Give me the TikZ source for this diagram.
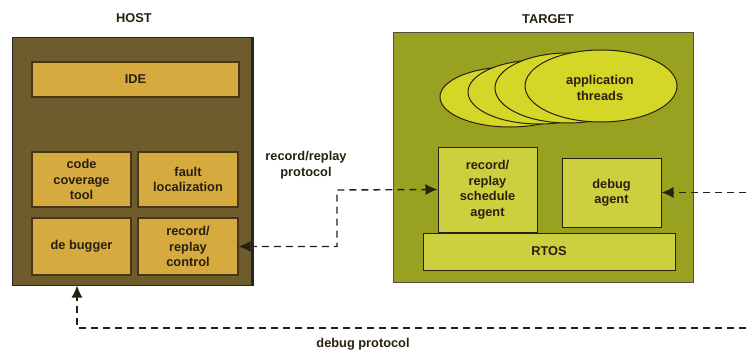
\documentclass[tikz,border=0pt]{standalone}
\usepackage{fontspec}
\setmainfont{Liberation Sans}
\usetikzlibrary{arrows.meta,shapes.geometric}

\definecolor{hostfill}{RGB}{110,92,44}
\definecolor{hostbox}{RGB}{214,170,62}
\definecolor{hostline}{RGB}{70,54,20}
\definecolor{targetfill}{RGB}{152,162,32}
\definecolor{targetbox}{RGB}{204,208,62}
\definecolor{threadfill}{RGB}{212,214,40}
\definecolor{inkdark}{RGB}{40,32,16}

\tikzset{
  lbl/.style={font=\bfseries\fontsize{12.8}{15.5}\selectfont, text=inkdark, align=center},
  frame/.style={rectangle, inner sep=0pt},
  hostpart/.style={frame, lbl, fill=hostbox, draw=hostline, line width=1.2pt},
  targetpart/.style={frame, lbl, fill=targetbox, draw=inkdark, line width=1pt},
  thread/.style={ellipse, inner sep=0pt, fill=threadfill, draw=inkdark, line width=1pt},
  proto/.style={draw=inkdark, line width=1.4pt, dash pattern=on 7pt off 5pt},
  headtip/.tip={Latex[length=12pt,width=11pt]}
}

\begin{document}
\begin{tikzpicture}[x=1pt,y=-1pt]
\useasboundingbox (0,0) rectangle (746,353);

% host side
\node[frame, fill=hostfill, draw=black!85, line width=1pt,
      minimum width=240pt, minimum height=247pt] (host) at (132,161.5) {};
\draw[black!85, line width=2.5pt] (host.north east) -- (host.south east);
\node[lbl] (hostlbl) at (134,18) {HOST};

\node[hostpart, minimum width=207pt, minimum height=35pt] (ide) at (135.5,79.5) {IDE};
\node[hostpart, minimum width=99pt, minimum height=55pt] (cct) at (81.5,179.5) {code\\coverage\\tool};
\node[hostpart, minimum width=100pt, minimum height=55pt] (fault) at (188,179.5) {fault\\localization};
\node[hostpart, minimum width=99pt, minimum height=57pt] (dbg) at (81.5,246.5) {de bugger};
\node[hostpart, minimum width=100pt, minimum height=57pt] (rrc) at (188,246.5) {record/\\replay\\control};

% target side
\node[frame, fill=targetfill, draw=inkdark!80, line width=0.8pt,
      minimum width=300pt, minimum height=250pt] (target) at (543,157) {};
\node[lbl] (targetlbl) at (548,19) {TARGET};

\node[thread, minimum width=140pt, minimum height=60pt] (th1) at (510,97) {};
\node[thread, minimum width=142pt, minimum height=64pt] (th2) at (539,92) {};
\node[thread, minimum width=146pt, minimum height=70pt] (th3) at (568,88) {};
\node[thread, minimum width=152pt, minimum height=72pt] (th4) at (601,86) {};
\node[lbl] (thlbl) at (600,88) {application\\threads};

\node[targetpart, minimum width=252pt, minimum height=37pt] (rtos) at (549,251.5) {RTOS};
\node[targetpart, minimum width=99pt, minimum height=85pt] (rrsa) at (487.5,189.5) {record/\\replay\\schedule\\agent};
\node[targetpart, minimum width=99pt, minimum height=69pt] (dagent) at (611.5,192.5) {debug\\agent};

% record/replay protocol
\coordinate (rpbend) at (337,190);
\draw[proto, headtip-headtip] (rrc.east) -| (rpbend) -- (rrsa.west);
\node[lbl] (rplbl) at (306,165) {record/replay\\protocol};

% debug protocol
\coordinate (dbgin) at (746,192.5);
\coordinate (dbgout) at (746,328);
\coordinate (dbgcorner) at (77,328);
\draw[proto, -headtip] (dbgin) -- (dagent.east);
\draw[proto, -headtip] (dbgout) -- (dbgcorner) -- (dbgcorner |- host.south);
\node[lbl] (dplbl) at (363,344) {debug protocol};
\end{tikzpicture}
\end{document}
